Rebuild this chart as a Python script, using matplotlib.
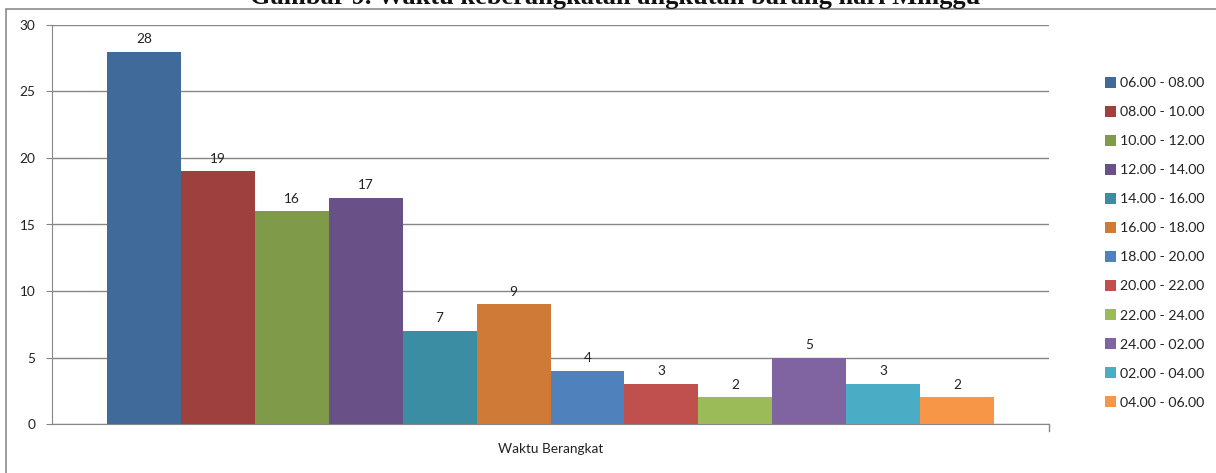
import matplotlib
matplotlib.use("Agg")
import matplotlib.pyplot as plt
from matplotlib.patches import Rectangle, Patch
import numpy as np

categories = ["06.00 - 08.00", "08.00 - 10.00", "10.00 - 12.00", "12.00 - 14.00",
              "14.00 - 16.00", "16.00 - 18.00", "18.00 - 20.00", "20.00 - 22.00",
              "22.00 - 24.00", "24.00 - 02.00", "02.00 - 04.00", "04.00 - 06.00"]
values = [28, 19, 16, 17, 7, 9, 4, 3, 2, 5, 3, 2]
colors = ["#3F6A9A", "#9E413E", "#7F9A48", "#695086", "#3A8DA3", "#CF7B37",
          "#4F81BD", "#C0504D", "#9BBB59", "#8064A2", "#4BACC6", "#F79646"]
group_label = "Waktu Berangkat"
yticks = [0, 5, 10, 15, 20, 25, 30]
title = "Gambar 9. Waktu keberangkatan angkutan barang hari Minggu"

W, H = 1216, 473
fig = plt.figure(figsize=(W / 100, H / 100), dpi=100)
plt.rcParams['font.family'] = ['Lato', 'DejaVu Sans']

ax = fig.add_axes([52 / W, 1 - 424 / H, (1049 - 52) / W, (424 - 25) / H])

n = len(values)
group_w = 0.89
bw = group_w / n
x0 = 0.5 - group_w / 2
for i, (c, v, col) in enumerate(zip(categories, values, colors)):
    xc = x0 + bw * (i + 0.5)
    ax.bar(xc, v, width=bw, color=col, label=c, zorder=3)
    ax.text(xc, v + 0.5, str(v), ha="center", va="bottom", fontsize=9.8, color="#222222")

ax.set_xlim(0, 1)
ax.set_ylim(0, 30)
ax.set_yticks(yticks)
ax.set_yticklabels([str(t) for t in yticks], fontsize=9.8, color="#222222")
ax.set_xticks([0.5])
ax.set_xticklabels([group_label], fontsize=9.8, color="#222222")
ax.tick_params(axis="x", length=0, pad=14)
ax.tick_params(axis="y", length=4, color="#868686", pad=8)
ax.grid(axis="y", color="#868686", linewidth=1.0, zorder=0)
for s in ["top", "right"]:
    ax.spines[s].set_visible(False)
ax.spines["left"].set_color("#868686")
ax.spines["bottom"].set_color("#868686")
ax.plot([1, 1], [0, -0.5], color="#868686", lw=1, clip_on=False)

handles = [Patch(facecolor=c, edgecolor="none") for c in colors]
leg = fig.legend(handles, categories, loc="upper left",
                 bbox_to_anchor=(1092 / W, 1 - 64 / H), frameon=False,
                 fontsize=10.2, handlelength=0.8, handleheight=0.8,
                 handletextpad=0.3, labelspacing=1.18)
for t in leg.get_texts():
    t.set_color("#222222")

fig.patches.append(Rectangle((6 / W, -0.05), 1.1, 1 - 9.5 / H + 0.05,
                             transform=fig.transFigure, fill=False,
                             edgecolor="#8c8c8c", linewidth=1.2, clip_on=False))

fig.text(615 / W, 1 - 4 / H, title, ha="center", va="baseline",
         fontsize=19, fontweight="bold", family=["Liberation Serif"], color="#111111")

fig.savefig("out.png", dpi=100)
